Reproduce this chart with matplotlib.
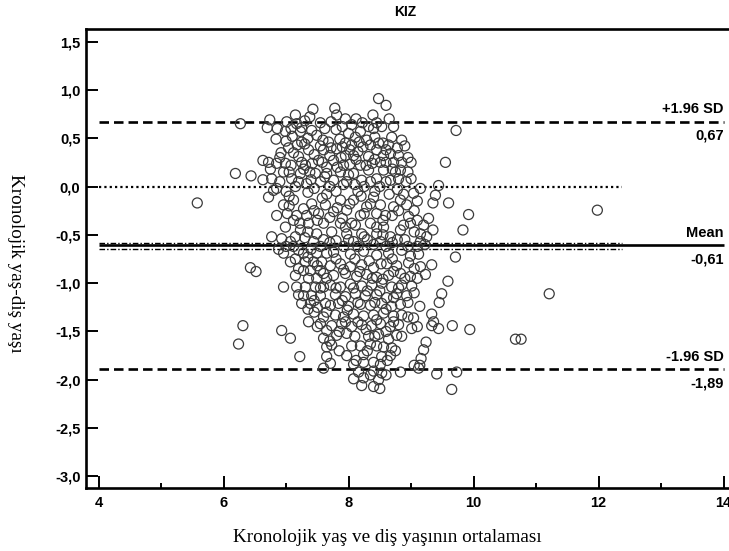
import matplotlib
matplotlib.use("Agg")
import matplotlib.pyplot as plt
from matplotlib.ticker import MultipleLocator, FuncFormatter

# ---------------- data ----------------
mean_age = [
    # upper band
    7.43, 7.78, 7.81, 7.15, 6.74, 6.27, 8.39, 8.48, 8.60, 7.72, 7.01, 6.70, 6.86, 6.99, 7.17, 9.72, 7.95, 8.05, 8.22, 8.32, 7.55, 7.30,
    6.84, 7.23, 7.25, 7.41, 7.49, 7.59, 7.68, 7.80, 7.86, 8.00, 8.11, 8.19, 8.29, 8.42, 8.40, 8.53, 8.69, 8.72, 7.10, 7.35, 7.95, 8.55,
    7.04, 7.20, 6.63, 6.72, 6.85, 6.99, 7.31, 7.36, 7.52, 7.60, 7.76, 7.81, 7.95, 8.08, 8.05, 8.23, 8.32, 8.45, 8.56, 8.64, 8.67, 8.80,
    8.85, 8.72, 8.51, 8.19, 7.92, 7.65, 9.55, 7.12, 7.45, 7.70, 8.15, 8.38, 8.95, 8.90, 7.42,
    5.58, 6.19, 6.44, 6.63, 6.77, 6.85, 6.96, 7.09, 7.23, 7.33, 7.47, 7.55, 7.65, 7.76, 7.87, 7.97, 8.08, 8.21, 8.32, 8.45, 8.56, 8.67,
    8.80, 8.83, 9.04, 9.44, 6.80, 7.15, 7.40, 7.70, 8.00, 8.25, 8.50, 8.92, 8.95, 7.28, 8.70,
    6.72, 6.96, 7.12, 7.17, 7.28, 7.41, 7.52, 7.63, 7.76, 7.87, 7.97, 8.08, 8.19, 8.29, 8.40, 8.51, 8.59, 8.72, 8.83, 8.93, 8.96, 9.39,
    9.35, 9.60, 9.92, 7.02, 7.35, 7.65, 7.90, 8.15, 8.45, 8.65, 9.05, 9.10, 7.50,
    6.99, 7.12, 7.23, 7.36, 7.49, 7.60, 7.73, 7.87, 7.97, 8.11, 8.21, 8.35, 8.45, 8.56, 8.67, 8.83, 8.99, 9.15, 9.28, 9.20, 9.83, 6.77,
    6.93, 7.07, 7.44, 8.08, 8.51, 9.15, 9.25, 7.30, 7.60, 7.80, 8.30, 8.70, 8.90, 9.05, 9.35,
    # lower-left part
    6.96, 7.28, 7.49, 7.65, 7.07, 7.31, 7.44, 7.57, 6.43, 6.52, 7.28, 7.39, 7.55, 7.36, 7.49, 7.65, 6.96, 7.17, 7.31, 7.47, 7.60, 7.28,
    7.41, 7.55, 7.25, 7.39, 7.63, 7.60, 7.36, 6.93, 7.65, 7.07, 7.60, 7.65, 7.22, 7.65, 7.60, 6.31, 6.24, 7.12, 7.20, 7.00, 7.15, 7.50,
    7.45, 7.55,
    # lower-right part
    7.76, 8.03, 8.24, 8.45, 8.64, 8.85, 8.99, 9.12,
    7.71, 7.87, 8.03, 8.21, 8.40, 8.61, 8.77, 8.96, 9.15, 9.33,
    7.76, 7.95, 8.13, 8.29, 8.45, 8.64, 8.83, 8.99, 9.23,
    7.71, 7.87, 8.03, 8.21, 8.37, 8.53, 8.69, 8.85, 9.01,
    7.79, 7.95, 8.11, 8.27, 8.45, 8.61, 8.77, 8.93, 9.49,
    7.71, 7.84, 8.00, 8.19, 8.35, 8.53, 8.69, 8.83, 9.14,
    7.79, 7.92, 8.08, 8.24, 8.40, 8.56, 8.72, 8.85, 9.04, 9.33,
    7.73, 7.89, 8.05, 8.21, 8.37, 8.51, 8.67, 8.80, 9.01, 9.33, 9.44, 9.66, 9.94,
    7.81, 7.97, 8.32, 8.48, 8.64, 8.77, 9.24,
    7.73, 8.19, 8.35, 8.56, 8.69, 9.20,
    7.97, 8.24, 8.53, 8.67, 9.16,
    7.71, 8.08, 8.24, 8.51, 9.14,
    8.16, 8.40, 8.53, 8.83, 9.12, 9.41, 9.73,
    8.08, 8.24, 8.48,
    8.21, 8.40, 8.50, 9.65,
    # outliers
    9.71, 9.59, 9.45, 9.36, 11.98, 11.21, 10.67, 10.76,
    # extra points in the dense core
    7.08, 7.38, 7.62, 7.90, 8.12, 8.45, 8.65, 7.25,
    7.00, 7.18, 7.30, 7.55, 7.72, 7.90, 8.02, 8.17, 8.35, 8.48, 8.60, 8.78, 8.85, 6.92,
    6.90, 7.08, 7.25, 7.38, 7.58, 7.62, 7.82, 7.88, 8.02, 8.12, 8.28, 8.42, 8.60, 8.75, 9.00, 7.05, 6.75,
    6.90, 7.00, 7.20, 7.45, 7.58, 7.80, 7.92, 8.10, 8.20, 8.35, 8.42, 8.60, 8.78, 8.88, 9.00, 7.05, 9.15,
    6.85, 7.05, 7.22, 7.45, 7.70, 7.82, 8.02, 8.05, 8.25, 8.35, 8.55, 8.70, 8.80, 8.88, 9.10, 7.33, 7.95, 8.45,
    6.88, 7.15, 7.40, 7.55, 7.70, 7.92, 8.00, 8.15, 8.25, 8.40, 8.60, 8.78, 8.95, 9.10, 9.22, 7.35, 8.55,
    7.15, 7.20, 7.35, 7.50, 7.60, 7.80, 7.92, 8.10, 8.18, 8.33, 8.38, 8.52, 8.55, 8.70, 8.72, 8.90, 9.05, 9.10,
    7.20, 7.35, 7.45, 7.55, 7.65, 7.80, 7.90, 7.98, 8.08, 8.15, 8.30, 8.42, 8.50, 8.60, 8.72, 8.80, 8.95, 9.05,
    7.50, 7.70, 7.85, 7.95, 8.10, 8.15, 8.28, 8.42, 8.45, 8.60, 8.72, 8.85, 8.95, 9.10,
    7.85, 8.05, 8.12, 8.30, 8.40, 8.45, 8.62, 8.75, 8.35, 8.60, 9.05,
]

age_diff = [
    0.80, 0.81, 0.74, 0.74, 0.69, 0.65, 0.74, 0.91, 0.84, 0.67, 0.67, 0.61, 0.60, 0.57, 0.65, 0.58, 0.70, 0.64, 0.66, 0.62, 0.66, 0.68,
    0.49, 0.57, 0.46, 0.58, 0.53, 0.48, 0.46, 0.59, 0.49, 0.55, 0.51, 0.57, 0.48, 0.51, 0.60, 0.62, 0.51, 0.62, 0.52, 0.50, 0.45, 0.45,
    0.40, 0.31, 0.27, 0.25, 0.24, 0.24, 0.22, 0.38, 0.27, 0.38, 0.27, 0.39, 0.32, 0.32, 0.43, 0.41, 0.31, 0.38, 0.32, 0.43, 0.34, 0.32,
    0.25, 0.25, 0.25, 0.22, 0.22, 0.20, 0.25, 0.35, 0.33, 0.32, 0.36, 0.24, 0.30, 0.42, 0.24,
    -0.17, 0.135, 0.11, 0.07, 0.08, -0.02, 0.15, 0.08, 0.135, 0.03, 0.135, 0.05, 0.135, 0.065, 0.15, 0.05, 0.135, 0.065, 0.17, 0.08, 0.17, 0.065,
    0.08, 0.17, -0.07, 0.01, -0.04, 0.00, 0.07, 0.00, 0.12, 0.00, 0.00, 0.05, 0.15, 0.18, 0.18,
    -0.11, -0.19, -0.14, -0.30, -0.23, -0.18, -0.28, -0.19, -0.26, -0.14, -0.245, -0.14, -0.30, -0.21, -0.11, -0.19, -0.30, -0.21, -0.14, -0.19, -0.31, -0.09,
    -0.17, -0.17, -0.29, -0.28, -0.06, -0.08, -0.33, -0.05, -0.28, -0.08, -0.25, -0.15, -0.35,
    -0.42, -0.35, -0.45, -0.38, -0.49, -0.38, -0.47, -0.38, -0.49, -0.40, -0.49, -0.38, -0.49, -0.42, -0.52, -0.45, -0.38, -0.49, -0.33, -0.40, -0.45, -0.52,
    -0.54, -0.57, -0.57, -0.57, -0.57, -0.57, -0.52, -0.53, -0.55, -0.56, -0.55, -0.58, -0.55, -0.47, -0.45,
    -0.69, -0.69, -0.69, -0.69, -0.78, -0.78, -0.78, -0.78, -0.84, -0.88, -0.87, -0.87, -0.87, -0.95, -0.95, -0.95, -1.04, -1.04, -1.04, -1.04, -1.04, -1.13,
    -1.13, -1.13, -1.21, -1.21, -1.21, -1.35, -1.40, -1.49, -1.49, -1.57, -1.57, -1.66, -1.76, -1.76, -1.88, -1.44, -1.63, -0.62, -0.66, -0.62, -0.92, -1.25,
    -1.30, -1.42,
    -0.68, -0.70, -0.67, -0.71, -0.69, -0.66, -0.72, -0.70,
    -0.82, -0.80, -0.83, -0.81, -0.84, -0.80, -0.82, -0.79, -0.83, -0.81,
    -0.92, -0.90, -0.93, -0.91, -0.94, -0.92, -0.90, -0.93, -0.91,
    -1.02, -1.04, -1.01, -1.03, -1.02, -1.00, -1.04, -1.02, -1.03,
    -1.12, -1.14, -1.11, -1.13, -1.12, -1.15, -1.11, -1.13, -1.11,
    -1.23, -1.21, -1.24, -1.22, -1.23, -1.21, -1.24, -1.22, -1.24,
    -1.33, -1.35, -1.32, -1.34, -1.33, -1.31, -1.34, -1.33, -1.36, -1.32,
    -1.44, -1.42, -1.45, -1.43, -1.44, -1.42, -1.45, -1.43, -1.47, -1.44, -1.47, -1.44, -1.48,
    -1.54, -1.52, -1.55, -1.53, -1.58, -1.54, -1.61,
    -1.64, -1.65, -1.63, -1.66, -1.67, -1.69,
    -1.75, -1.74, -1.76, -1.75, -1.78,
    -1.83, -1.84, -1.82, -1.84, -1.85,
    -1.92, -1.91, -1.93, -1.92, -1.88, -1.94, -1.92,
    -1.99, -1.98, -2.00,
    -2.06, -2.07, -2.09, -2.10,
    -0.73, -0.98, -1.20, -1.40, -0.245, -1.11, -1.58, -1.58,
    0.60, 0.72, 0.60, 0.62, 0.70, 0.66, 0.70, 0.61,
    0.47, 0.43, 0.44, 0.42, 0.40, 0.41, 0.38, 0.46, 0.43, 0.45, 0.38, 0.40, 0.48, 0.35,
    0.30, 0.22, 0.25, 0.15, 0.25, 0.10, 0.20, 0.30, 0.23, 0.28, 0.22, 0.28, 0.25, 0.15, 0.25, 0.15, 0.18,
    0.05, -0.05, 0.05, -0.02, -0.12, -0.05, 0.02, 0.02, -0.10, 0.05, -0.05, 0.05, -0.03, -0.08, 0.08, -0.10, -0.02,
    -0.30, -0.20, -0.38, -0.25, -0.32, -0.22, -0.18, -0.38, -0.28, -0.18, -0.35, -0.30, -0.25, -0.40, -0.35, -0.30, -0.42, -0.42,
    -0.65, -0.52, -0.65, -0.62, -0.58, -0.62, -0.55, -0.62, -0.52, -0.60, -0.62, -0.55, -0.62, -0.62, -0.60, -0.47, -0.50,
    -0.75, -0.85, -0.73, -0.82, -0.90, -0.75, -0.86, -0.75, -0.88, -0.77, -0.95, -0.80, -0.96, -0.75, -0.88, -0.95, -0.85, -0.95,
    -1.12, -1.27, -1.18, -1.05, -1.30, -1.05, -1.18, -1.28, -1.05, -1.20, -1.08, -1.20, -1.08, -1.27, -1.15, -1.05, -1.20, -1.10,
    -1.45, -1.60, -1.50, -1.40, -1.55, -1.40, -1.48, -1.55, -1.38, -1.50, -1.40, -1.55, -1.35, -1.45,
    -1.70, -1.65, -1.80, -1.70, -1.82, -1.65, -1.80, -1.70, -1.95, -1.95, -1.85,
]

mean_diff = -0.61
upper_loa = 0.67
lower_loa = -1.89
mean_ci = [-0.58, -0.645]
line_start = 4.0
line_end = 14.0
short_end = 12.38

y_ticks = [-3.0, -2.5, -2.0, -1.5, -1.0, -0.5, 0.0, 0.5, 1.0, 1.5]
x_ticks = [4, 6, 8, 10, 12, 14]

# ---------------- figure ----------------
plt.rcParams['font.family'] = ['Liberation Sans', 'DejaVu Sans']
fig = plt.figure(figsize=(7.29, 5.51), dpi=100)
ax = fig.add_axes([86 / 729, 63 / 551, 647 / 729, 459 / 551])

ax.scatter(mean_age, age_diff, s=52, facecolors='none', edgecolors='#3a3a3a',
           linewidths=0.9, zorder=3)

ax.hlines(upper_loa, line_start, line_end, colors='black', linewidth=1.9,
          linestyles=(0, (3.6, 1.9)), zorder=2)
ax.hlines(lower_loa, line_start, line_end, colors='black', linewidth=1.9,
          linestyles=(0, (3.6, 1.9)), zorder=2)
ax.hlines(mean_diff, line_start, line_end, colors='black', linewidth=1.9, zorder=2)
ax.hlines(0.0, line_start, short_end, colors='black', linewidth=1.6,
          linestyles=(0, (1, 1.4)), zorder=2)
for v in mean_ci:
    ax.hlines(v, line_start, short_end, colors='black', linewidth=1.0,
              linestyles=(0, (4, 1.5, 1, 1.5)), zorder=2)

txt_kw = dict(ha='right', fontsize=10.5, fontweight='bold', color='black')
ax.annotate('+1.96 SD', (line_end, upper_loa), xytext=(0, 4), textcoords='offset points', va='bottom', **txt_kw)
ax.annotate(f'{upper_loa:.2f}'.replace('.', ','), (line_end, upper_loa), xytext=(0, -5), textcoords='offset points', va='top', **txt_kw)
ax.annotate('Mean', (line_end, mean_diff), xytext=(0, 4), textcoords='offset points', va='bottom', **txt_kw)
ax.annotate(f'{mean_diff:.2f}'.replace('.', ','), (line_end, mean_diff), xytext=(0, -5), textcoords='offset points', va='top', **txt_kw)
ax.annotate('-1.96 SD', (line_end, lower_loa), xytext=(0, 4), textcoords='offset points', va='bottom', **txt_kw)
ax.annotate(f'{lower_loa:.2f}'.replace('.', ','), (line_end, lower_loa), xytext=(0, -5), textcoords='offset points', va='top', **txt_kw)

ax.set_xlim(3.8, 14.15)
ax.set_ylim(-3.12, 1.63)
ax.set_xticks(x_ticks)
ax.xaxis.set_minor_locator(MultipleLocator(1))
ax.set_yticks(y_ticks)
ax.yaxis.set_major_formatter(FuncFormatter(lambda v, p: f'{v:.1f}'.replace('.', ',')))

for s in ax.spines.values():
    s.set_linewidth(1.9)
ax.tick_params(axis='both', which='major', direction='in', length=8.5, width=1.4,
               labelsize=10.5)
ax.tick_params(axis='x', which='major', pad=6)
ax.tick_params(axis='y', which='major', pad=4)
ax.tick_params(axis='x', which='minor', direction='in', length=3.6, width=1.4)
for lab in ax.get_xticklabels() + ax.get_yticklabels():
    lab.set_fontweight('bold')

fig.text(405 / 729, 1 - 12 / 551, 'KIZ', ha='center', va='center', fontsize=10,
         fontweight='bold')
fig.text(387 / 729, 1 - 537 / 551, 'Kronolojik yaş ve diş yaşının ortalaması',
         ha='center', va='center', fontsize=13.8, family=['Liberation Serif', 'DejaVu Serif'])
fig.text(15 / 729, 1 - 263 / 551, 'Kronolojik yaş-diş yaşı', ha='center', va='center',
         rotation=270, fontsize=13.8, family=['Liberation Serif', 'DejaVu Serif'])

fig.savefig('out.png', dpi=100)
